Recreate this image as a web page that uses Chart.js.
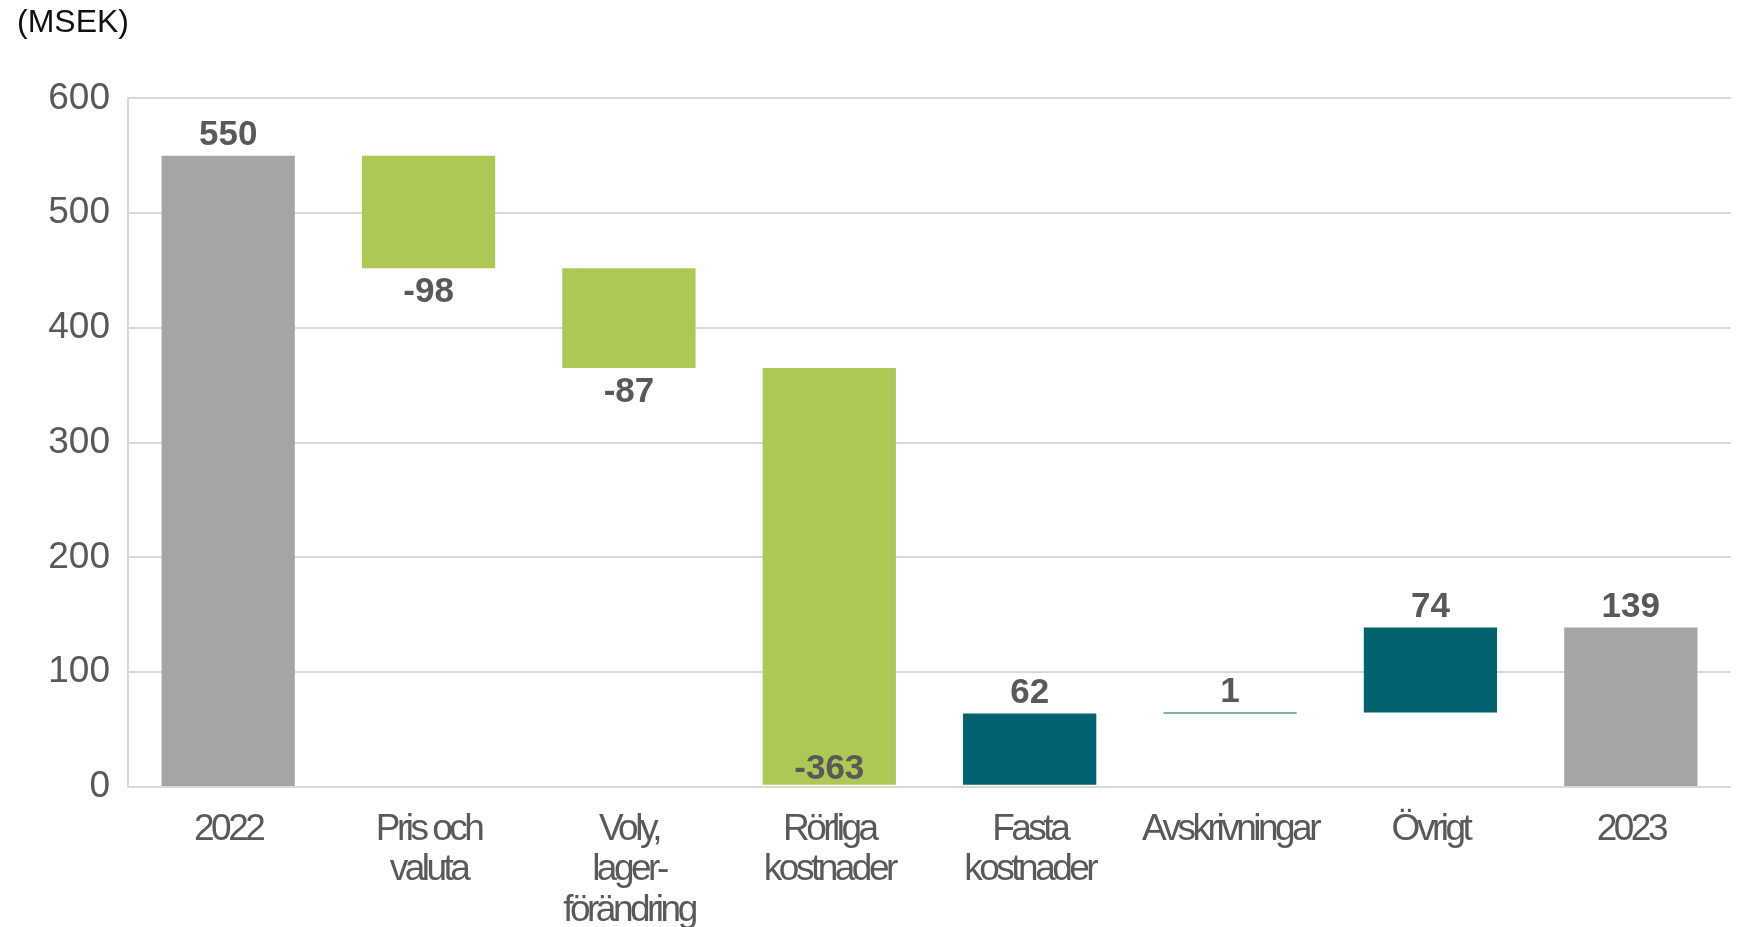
<!DOCTYPE html>
<html lang="sv">
<head>
<meta charset="utf-8">
<title>Rörelseresultat brygga</title>
<script src="https://cdn.jsdelivr.net/npm/chart.js@4/dist/chart.umd.min.js"></script>
<style>
    html, body { margin: 0; padding: 0; background: #ffffff; }
    #ruta { width: 1737px; height: 927px; }
</style>
</head>
<body>
<div id="ruta"><canvas id="brygga"></canvas></div>
<script>
let kategorier = [
    ['2022'],
    ['Pris och', 'valuta'],
    ['Voly,', 'lager-', 'förändring'],
    ['Rörliga', 'kostnader'],
    ['Fasta', 'kostnader'],
    ['Avskrivningar'],
    ['Övrigt'],
    ['2023']
];
let varden = [550, -98, -87, -363, 62, 1, 74, 139];
let typer = ['total', 'minus', 'minus', 'minus', 'plus', 'plus', 'plus', 'total'];
let yTicks = [0, 100, 200, 300, 400, 500, 600];

let farger = {
    total: '#a5a5a5',
    minus: '#abc954',
    plus: '#02626f'
};

// flytande staplar [start, slut] byggs från förändringarna
let staplar = [];
let farg = [];
let summa = 0;
for (let i = 0; i < varden.length; i++) {
    if (typer[i] === 'total') {
        staplar.push([0, varden[i]]);
        summa = varden[i];
    } else {
        staplar.push([summa, summa + varden[i]]);
        summa = summa + varden[i];
    }
    farg.push(farger[typer[i]]);
}

let etikettPlugin = {
    id: 'etiketter',
    afterDatasetsDraw: function(chart) {
        let ctx = chart.ctx;
        let meta = chart.getDatasetMeta(0);
        let nollY = chart.scales.y.getPixelForValue(0);
        ctx.save();
        ctx.font = 'bold 35px "Liberation Sans", Arial, sans-serif';
        ctx.fillStyle = '#595959';
        ctx.textAlign = 'center';
        ctx.textBaseline = 'middle';
        for (let i = 0; i < meta.data.length; i++) {
            let stapel = meta.data[i];
            let topp = Math.min(stapel.y, stapel.base);
            let botten = Math.max(stapel.y, stapel.base);
            let y;
            if (varden[i] >= 0) {
                y = topp - 20;
            } else {
                y = botten + 24;
                if (y + 15 > nollY) {
                    y = botten - 15;
                }
            }
            ctx.fillText(varden[i].toString(), stapel.x, y);
        }
        ctx.restore();
    }
};

new Chart(document.getElementById('brygga'), {
    type: 'bar',
    data: {
        labels: kategorier,
        datasets: [{
            data: staplar,
            backgroundColor: farg,
            borderWidth: 0,
            borderSkipped: false,
            barPercentage: 0.665,
            categoryPercentage: 1
        }]
    },
    options: {
        responsive: true,
        maintainAspectRatio: false,
        animation: false,
        layout: {
            padding: { top: 4, left: 17, right: 6, bottom: 0 }
        },
        plugins: {
            legend: { display: false },
            tooltip: { enabled: false },
            title: {
                display: true,
                text: '(MSEK)',
                align: 'start',
                color: '#111111',
                font: { family: '"Liberation Sans", Arial, sans-serif', size: 32, weight: 'normal' },
                padding: { top: 0, bottom: 56 }
            }
        },
        scales: {
            x: {
                grid: { display: false },
                border: { display: false },
                afterFit: function(skala) {
                    skala.height = 140;
                    // tätare text som i originalet
                    if (!skala.tattEtiketter) {
                        let original = skala.drawLabels;
                        skala.drawLabels = function(area) {
                            let ctx = skala.ctx;
                            ctx.save();
                            ctx.letterSpacing = '-3.5px';
                            original.call(skala, area);
                            ctx.restore();
                        };
                        skala.tattEtiketter = true;
                    }
                },
                ticks: {
                    color: '#595959',
                    autoSkip: false,
                    maxRotation: 0,
                    padding: 14,
                    font: { family: '"Liberation Sans", Arial, sans-serif', size: 37, lineHeight: 1.1 }
                }
            },
            y: {
                min: 0,
                max: 600,
                afterFit: function(skala) {
                    skala.width = 111;
                },
                afterBuildTicks: function(skala) {
                    skala.ticks = yTicks.map(function(v) { return { value: v }; });
                },
                grid: { color: '#d9d9d9', lineWidth: 2, drawTicks: false },
                border: { display: true, color: '#d9d9d9', width: 2 },
                ticks: {
                    color: '#595959',
                    padding: 18,
                    font: { family: '"Liberation Sans", Arial, sans-serif', size: 37 }
                }
            }
        }
    },
    plugins: [etikettPlugin]
});
</script>
</body>
</html>
